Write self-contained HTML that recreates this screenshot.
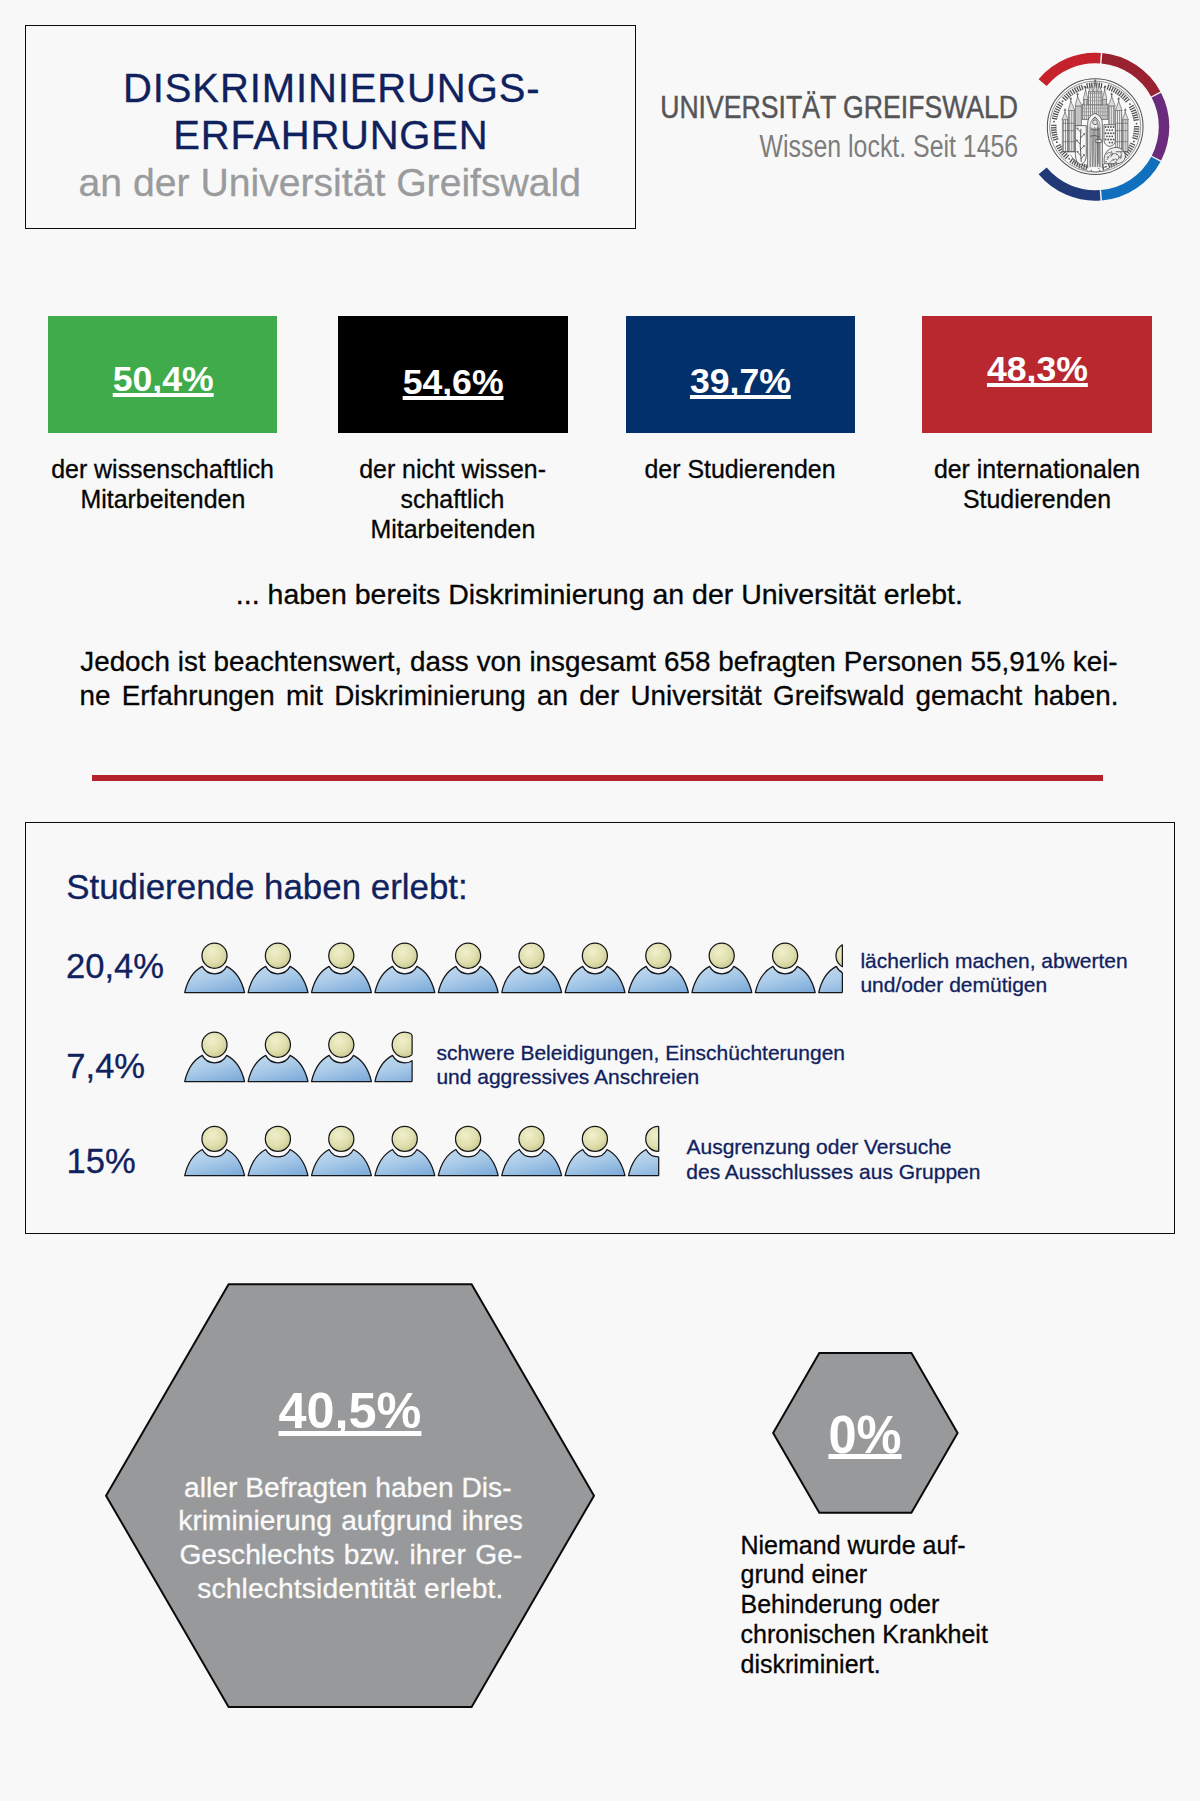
<!DOCTYPE html>
<html lang="de"><head><meta charset="utf-8"><title>Diskriminierungserfahrungen an der Universität Greifswald</title>
<style>
html,body{margin:0;padding:0}
body{width:1200px;height:1801px;position:relative;overflow:hidden;background:#f8f8f8;font-family:"Liberation Sans",Arial,sans-serif}
.t{position:absolute;white-space:pre;margin:0}
.b{position:absolute}
.t{-webkit-text-stroke:0.3px currentColor}
.u{text-decoration:underline;text-decoration-thickness:0.105em;text-underline-offset:0.054em;text-decoration-skip-ink:none;-webkit-text-stroke:0}
svg.g{position:absolute;left:0;top:0}
</style></head><body>
<svg class="g" width="1200" height="1801" viewBox="0 0 1200 1801">
<defs>
<radialGradient id="hg" cx="40%" cy="35%" r="70%"><stop offset="0" stop-color="#f0efcc"/><stop offset="0.6" stop-color="#e0dfae"/><stop offset="1" stop-color="#c9c88e"/></radialGradient>
<linearGradient id="bg" x1="0.2" y1="0" x2="0.8" y2="1"><stop offset="0" stop-color="#c0d9ef"/><stop offset="0.45" stop-color="#a9cae8"/><stop offset="1" stop-color="#7eacda"/></linearGradient>
<g id="p"><path d="M0.7,50 Q5,30.8 18.3,23.8 A13.76,13.76 0 0 0 42.7,23.8 Q56.2,30.8 60.6,50 Z" fill="url(#bg)" stroke="#15161a" stroke-width="1.25" stroke-linejoin="round"/><circle cx="30.5" cy="13.2" r="12.55" fill="url(#hg)" stroke="#15161a" stroke-width="1.25"/></g>
</defs>
<use href="#p" x="184.0" y="942.6"/>
<use href="#p" x="247.4" y="942.6"/>
<use href="#p" x="310.8" y="942.6"/>
<use href="#p" x="374.2" y="942.6"/>
<use href="#p" x="437.6" y="942.6"/>
<use href="#p" x="501.0" y="942.6"/>
<use href="#p" x="564.4" y="942.6"/>
<use href="#p" x="627.8" y="942.6"/>
<use href="#p" x="691.2" y="942.6"/>
<use href="#p" x="754.6" y="942.6"/>
<clipPath id="c942"><rect x="816.0" y="940.6" width="26.4" height="56"/></clipPath>
<g clip-path="url(#c942)"><use href="#p" x="818.0" y="942.6"/></g>
<line x1="842.4" y1="944.5" x2="842.4" y2="967.1" stroke="#15161a" stroke-width="1.25"/>
<line x1="842.4" y1="972.6" x2="842.4" y2="992.6" stroke="#15161a" stroke-width="1.25"/>
<use href="#p" x="184.0" y="1031.6"/>
<use href="#p" x="247.4" y="1031.6"/>
<use href="#p" x="310.8" y="1031.6"/>
<clipPath id="c1031"><rect x="372.2" y="1029.6" width="39.9" height="56"/></clipPath>
<g clip-path="url(#c1031)"><use href="#p" x="374.2" y="1031.6"/></g>
<line x1="412.1" y1="1035.1" x2="412.1" y2="1054.5" stroke="#15161a" stroke-width="1.25"/>
<line x1="412.1" y1="1060.2" x2="412.1" y2="1081.6" stroke="#15161a" stroke-width="1.25"/>
<use href="#p" x="184.0" y="1125.7"/>
<use href="#p" x="247.4" y="1125.7"/>
<use href="#p" x="310.8" y="1125.7"/>
<use href="#p" x="374.2" y="1125.7"/>
<use href="#p" x="437.6" y="1125.7"/>
<use href="#p" x="501.0" y="1125.7"/>
<use href="#p" x="564.4" y="1125.7"/>
<clipPath id="c1125"><rect x="625.8" y="1123.7" width="32.9" height="56"/></clipPath>
<g clip-path="url(#c1125)"><use href="#p" x="627.8" y="1125.7"/></g>
<line x1="658.7" y1="1126.4" x2="658.7" y2="1151.4" stroke="#15161a" stroke-width="1.25"/>
<line x1="658.7" y1="1156.8" x2="658.7" y2="1175.7" stroke="#15161a" stroke-width="1.25"/>
<polygon points="106.05,1495.65 228.6,1284.3 471.6,1284.3 594,1495.65 471.6,1707 228.6,1707" fill="#98999b" stroke="#0a0a0a" stroke-width="2" stroke-linejoin="miter"/>
<polygon points="773.15,1432.9 819.3,1353 911.4,1353 957.6,1432.9 911.4,1512.75 819.3,1512.75" fill="#98999b" stroke="#0a0a0a" stroke-width="2"/>
<path d="M1042.63,82.51 A68.75,68.75 0 0 1 1100.45,58.14" fill="none" stroke="#c5222b" stroke-width="10.5"/>
<path d="M1101.89,58.27 A68.75,68.75 0 0 1 1155.72,93.90" fill="none" stroke="#98222f" stroke-width="10.5"/>
<path d="M1156.34,95.06 A68.75,68.75 0 0 1 1156.45,158.13" fill="none" stroke="#6b2b7c" stroke-width="10.5"/>
<path d="M1155.89,159.19 A68.75,68.75 0 0 1 1101.53,195.17" fill="none" stroke="#1170bd" stroke-width="10.5"/>
<path d="M1100.10,195.28 A68.75,68.75 0 0 1 1042.63,170.89" fill="none" stroke="#213977" stroke-width="10.5"/>
<g transform="translate(1040,72) scale(0.091667)" fill="none" stroke-linecap="butt">
<pattern id="ht" width="21" height="12" patternUnits="userSpaceOnUse"><rect width="21" height="12" fill="#f4f4f4"/><rect width="8.5" height="12" fill="#777"/></pattern>
<pattern id="ht2" width="21" height="40" patternUnits="userSpaceOnUse"><rect width="21" height="40" fill="#f2f2f2"/><rect width="8.5" height="40" fill="#707070"/><rect y="32" width="21" height="7" fill="#8a8a8a"/></pattern>
<circle cx="602" cy="596" r="522" fill="#fbfbfb" stroke="#505050" stroke-width="11"/>
<circle cx="602" cy="596" r="497" stroke="#6e6e6e" stroke-width="8"/>
<line x1="514" y1="1011" x2="502" y2="1066" stroke="#4a4a4a" stroke-width="13"/>
<line x1="490" y1="1005" x2="475" y2="1059" stroke="#4a4a4a" stroke-width="13"/>
<line x1="467" y1="998" x2="449" y2="1051" stroke="#4a4a4a" stroke-width="13"/>
<line x1="444" y1="989" x2="423" y2="1041" stroke="#4a4a4a" stroke-width="13"/>
<line x1="421" y1="980" x2="398" y2="1030" stroke="#4a4a4a" stroke-width="13"/>
<line x1="400" y1="969" x2="373" y2="1018" stroke="#4a4a4a" stroke-width="13"/>
<line x1="379" y1="956" x2="349" y2="1004" stroke="#4a4a4a" stroke-width="13"/>
<line x1="358" y1="943" x2="326" y2="989" stroke="#4a4a4a" stroke-width="13"/>
<path d="M513,1014 A427,427 0 0 1 357,946" stroke="#6e6e6e" stroke-width="9" stroke-dasharray="12 10"/>
<path d="M503,1063 A477,477 0 0 1 328,987" stroke="#6e6e6e" stroke-width="9" stroke-dasharray="12 10"/>
<circle cx="318" cy="947" r="10" fill="#505050"/>
<line x1="313" y1="906" x2="275" y2="947" stroke="#4a4a4a" stroke-width="13"/>
<line x1="295" y1="889" x2="255" y2="928" stroke="#4a4a4a" stroke-width="13"/>
<line x1="279" y1="871" x2="236" y2="907" stroke="#4a4a4a" stroke-width="13"/>
<line x1="264" y1="852" x2="219" y2="886" stroke="#4a4a4a" stroke-width="13"/>
<line x1="250" y1="832" x2="203" y2="863" stroke="#4a4a4a" stroke-width="13"/>
<line x1="237" y1="811" x2="188" y2="840" stroke="#4a4a4a" stroke-width="13"/>
<line x1="225" y1="790" x2="175" y2="815" stroke="#4a4a4a" stroke-width="13"/>
<path d="M311,908 A427,427 0 0 1 218,783" stroke="#6e6e6e" stroke-width="9" stroke-dasharray="12 10"/>
<path d="M277,945 A477,477 0 0 1 173,805" stroke="#6e6e6e" stroke-width="9" stroke-dasharray="12 10"/>
<circle cx="183" cy="765" r="10" fill="#505050"/>
<line x1="199" y1="727" x2="145" y2="744" stroke="#4a4a4a" stroke-width="13"/>
<line x1="192" y1="704" x2="138" y2="718" stroke="#4a4a4a" stroke-width="13"/>
<line x1="186" y1="680" x2="131" y2="691" stroke="#4a4a4a" stroke-width="13"/>
<line x1="182" y1="656" x2="127" y2="664" stroke="#4a4a4a" stroke-width="13"/>
<line x1="179" y1="631" x2="124" y2="636" stroke="#4a4a4a" stroke-width="13"/>
<line x1="178" y1="607" x2="122" y2="609" stroke="#4a4a4a" stroke-width="13"/>
<line x1="178" y1="583" x2="122" y2="581" stroke="#4a4a4a" stroke-width="13"/>
<path d="M196,728 A427,427 0 0 1 176,574" stroke="#6e6e6e" stroke-width="9" stroke-dasharray="12 10"/>
<path d="M148,743 A477,477 0 0 1 126,571" stroke="#6e6e6e" stroke-width="9" stroke-dasharray="12 10"/>
<circle cx="153" cy="541" r="10" fill="#505050"/>
<line x1="186" y1="515" x2="131" y2="504" stroke="#4a4a4a" stroke-width="13"/>
<line x1="191" y1="491" x2="137" y2="477" stroke="#4a4a4a" stroke-width="13"/>
<line x1="198" y1="468" x2="144" y2="451" stroke="#4a4a4a" stroke-width="13"/>
<line x1="206" y1="445" x2="154" y2="425" stroke="#4a4a4a" stroke-width="13"/>
<line x1="215" y1="422" x2="164" y2="399" stroke="#4a4a4a" stroke-width="13"/>
<line x1="226" y1="400" x2="176" y2="374" stroke="#4a4a4a" stroke-width="13"/>
<line x1="238" y1="379" x2="190" y2="350" stroke="#4a4a4a" stroke-width="13"/>
<line x1="251" y1="358" x2="205" y2="327" stroke="#4a4a4a" stroke-width="13"/>
<path d="M183,515 A427,427 0 0 1 248,357" stroke="#6e6e6e" stroke-width="9" stroke-dasharray="12 10"/>
<path d="M134,505 A477,477 0 0 1 207,329" stroke="#6e6e6e" stroke-width="9" stroke-dasharray="12 10"/>
<circle cx="246" cy="318" r="10" fill="#505050"/>
<line x1="287" y1="312" x2="245" y2="275" stroke="#4a4a4a" stroke-width="13"/>
<line x1="304" y1="295" x2="264" y2="255" stroke="#4a4a4a" stroke-width="13"/>
<line x1="322" y1="278" x2="285" y2="236" stroke="#4a4a4a" stroke-width="13"/>
<line x1="340" y1="262" x2="306" y2="218" stroke="#4a4a4a" stroke-width="13"/>
<line x1="360" y1="248" x2="328" y2="202" stroke="#4a4a4a" stroke-width="13"/>
<line x1="380" y1="234" x2="351" y2="187" stroke="#4a4a4a" stroke-width="13"/>
<line x1="402" y1="222" x2="375" y2="173" stroke="#4a4a4a" stroke-width="13"/>
<line x1="423" y1="211" x2="400" y2="161" stroke="#4a4a4a" stroke-width="13"/>
<line x1="446" y1="202" x2="425" y2="150" stroke="#4a4a4a" stroke-width="13"/>
<line x1="469" y1="193" x2="451" y2="140" stroke="#4a4a4a" stroke-width="13"/>
<path d="M285,310 A427,427 0 0 1 463,192" stroke="#6e6e6e" stroke-width="9" stroke-dasharray="12 10"/>
<path d="M248,277 A477,477 0 0 1 447,145" stroke="#6e6e6e" stroke-width="9" stroke-dasharray="12 10"/>
<circle cx="485" cy="159" r="10" fill="#505050"/>
<line x1="521" y1="180" x2="510" y2="125" stroke="#4a4a4a" stroke-width="13"/>
<line x1="545" y1="176" x2="538" y2="120" stroke="#4a4a4a" stroke-width="13"/>
<line x1="569" y1="173" x2="565" y2="117" stroke="#4a4a4a" stroke-width="13"/>
<line x1="594" y1="172" x2="593" y2="116" stroke="#4a4a4a" stroke-width="13"/>
<line x1="618" y1="172" x2="620" y2="116" stroke="#4a4a4a" stroke-width="13"/>
<line x1="643" y1="174" x2="648" y2="118" stroke="#4a4a4a" stroke-width="13"/>
<line x1="667" y1="177" x2="675" y2="122" stroke="#4a4a4a" stroke-width="13"/>
<path d="M521,177 A427,427 0 0 1 676,175" stroke="#6e6e6e" stroke-width="9" stroke-dasharray="12 10"/>
<path d="M511,128 A477,477 0 0 1 685,126" stroke="#6e6e6e" stroke-width="9" stroke-dasharray="12 10"/>
<circle cx="711" cy="157" r="10" fill="#505050"/>
<line x1="733" y1="193" x2="750" y2="139" stroke="#4a4a4a" stroke-width="13"/>
<line x1="756" y1="201" x2="776" y2="149" stroke="#4a4a4a" stroke-width="13"/>
<line x1="779" y1="210" x2="802" y2="160" stroke="#4a4a4a" stroke-width="13"/>
<line x1="800" y1="221" x2="827" y2="172" stroke="#4a4a4a" stroke-width="13"/>
<line x1="822" y1="233" x2="851" y2="185" stroke="#4a4a4a" stroke-width="13"/>
<line x1="842" y1="247" x2="874" y2="200" stroke="#4a4a4a" stroke-width="13"/>
<line x1="862" y1="261" x2="896" y2="217" stroke="#4a4a4a" stroke-width="13"/>
<line x1="881" y1="276" x2="918" y2="234" stroke="#4a4a4a" stroke-width="13"/>
<line x1="899" y1="293" x2="938" y2="253" stroke="#4a4a4a" stroke-width="13"/>
<line x1="916" y1="311" x2="957" y2="273" stroke="#4a4a4a" stroke-width="13"/>
<line x1="932" y1="329" x2="975" y2="294" stroke="#4a4a4a" stroke-width="13"/>
<path d="M734,190 A427,427 0 0 1 943,339" stroke="#6e6e6e" stroke-width="9" stroke-dasharray="12 10"/>
<path d="M749,142 A477,477 0 0 1 983,309" stroke="#6e6e6e" stroke-width="9" stroke-dasharray="12 10"/>
<circle cx="981" cy="350" r="10" fill="#505050"/>
<line x1="973" y1="390" x2="1022" y2="363" stroke="#4a4a4a" stroke-width="13"/>
<line x1="984" y1="412" x2="1035" y2="388" stroke="#4a4a4a" stroke-width="13"/>
<line x1="994" y1="434" x2="1046" y2="413" stroke="#4a4a4a" stroke-width="13"/>
<line x1="1003" y1="457" x2="1056" y2="439" stroke="#4a4a4a" stroke-width="13"/>
<line x1="1010" y1="481" x2="1064" y2="465" stroke="#4a4a4a" stroke-width="13"/>
<line x1="1016" y1="504" x2="1071" y2="492" stroke="#4a4a4a" stroke-width="13"/>
<line x1="1021" y1="528" x2="1076" y2="519" stroke="#4a4a4a" stroke-width="13"/>
<path d="M975,389 A427,427 0 0 1 1025,537" stroke="#6e6e6e" stroke-width="9" stroke-dasharray="12 10"/>
<path d="M1019,365 A477,477 0 0 1 1074,530" stroke="#6e6e6e" stroke-width="9" stroke-dasharray="12 10"/>
<circle cx="1053" cy="564" r="10" fill="#505050"/>
<line x1="1026" y1="596" x2="1082" y2="596" stroke="#4a4a4a" stroke-width="13"/>
<line x1="1025" y1="620" x2="1081" y2="624" stroke="#4a4a4a" stroke-width="13"/>
<line x1="1023" y1="645" x2="1079" y2="651" stroke="#4a4a4a" stroke-width="13"/>
<line x1="1020" y1="669" x2="1075" y2="679" stroke="#4a4a4a" stroke-width="13"/>
<line x1="1015" y1="693" x2="1069" y2="706" stroke="#4a4a4a" stroke-width="13"/>
<line x1="1009" y1="716" x2="1062" y2="732" stroke="#4a4a4a" stroke-width="13"/>
<path d="M1029,596 A427,427 0 0 1 1010,721" stroke="#6e6e6e" stroke-width="9" stroke-dasharray="12 10"/>
<path d="M1079,596 A477,477 0 0 1 1058,735" stroke="#6e6e6e" stroke-width="9" stroke-dasharray="12 10"/>
<circle cx="1024" cy="758" r="10" fill="#505050"/>
<line x1="986" y1="775" x2="1037" y2="799" stroke="#4a4a4a" stroke-width="13"/>
<line x1="975" y1="797" x2="1025" y2="824" stroke="#4a4a4a" stroke-width="13"/>
<line x1="963" y1="818" x2="1011" y2="848" stroke="#4a4a4a" stroke-width="13"/>
<line x1="950" y1="839" x2="996" y2="871" stroke="#4a4a4a" stroke-width="13"/>
<line x1="935" y1="858" x2="979" y2="893" stroke="#4a4a4a" stroke-width="13"/>
<line x1="920" y1="877" x2="961" y2="914" stroke="#4a4a4a" stroke-width="13"/>
<line x1="903" y1="895" x2="943" y2="934" stroke="#4a4a4a" stroke-width="13"/>
<path d="M989,776 A427,427 0 0 1 899,903" stroke="#6e6e6e" stroke-width="9" stroke-dasharray="12 10"/>
<path d="M1034,798 A477,477 0 0 1 933,939" stroke="#6e6e6e" stroke-width="9" stroke-dasharray="12 10"/>
<circle cx="893" cy="942" r="10" fill="#505050"/>
<line x1="851" y1="939" x2="884" y2="984" stroke="#4a4a4a" stroke-width="13"/>
<line x1="831" y1="953" x2="861" y2="1000" stroke="#4a4a4a" stroke-width="13"/>
<line x1="810" y1="965" x2="838" y2="1014" stroke="#4a4a4a" stroke-width="13"/>
<line x1="789" y1="977" x2="813" y2="1027" stroke="#4a4a4a" stroke-width="13"/>
<line x1="766" y1="987" x2="788" y2="1038" stroke="#4a4a4a" stroke-width="13"/>
<line x1="744" y1="996" x2="762" y2="1048" stroke="#4a4a4a" stroke-width="13"/>
<path d="M853,941 A427,427 0 0 1 741,1000" stroke="#6e6e6e" stroke-width="9" stroke-dasharray="12 10"/>
<path d="M882,982 A477,477 0 0 1 757,1047" stroke="#6e6e6e" stroke-width="9" stroke-dasharray="12 10"/>
<circle cx="719" cy="1033" r="10" fill="#505050"/>
<line x1="683" y1="1012" x2="694" y2="1067" stroke="#4a4a4a" stroke-width="13"/>
<path d="M683,1015 A427,427 0 0 1 669,1018" stroke="#6e6e6e" stroke-width="9" stroke-dasharray="12 10"/>
<path d="M693,1064 A477,477 0 0 1 677,1067" stroke="#6e6e6e" stroke-width="9" stroke-dasharray="12 10"/>
<circle cx="641" cy="1046" r="10" fill="#505050"/>
<rect x="243" y="520" width="60" height="350" fill="url(#ht)" stroke="#6e6e6e" stroke-width="8"/>
<path d="M239,520 L273,440 L307,520 Z" fill="#dcdcdc" stroke="#6e6e6e" stroke-width="8"/>
<path d="M273,446 V398 M260,416 H286" stroke="#505050" stroke-width="9"/>
<rect x="311" y="420" width="66" height="450" fill="url(#ht)" stroke="#6e6e6e" stroke-width="8"/>
<path d="M307,420 L336,318 L381,420 Z" fill="#dcdcdc" stroke="#6e6e6e" stroke-width="8"/>
<path d="M336,324 V276 M323,294 H349" stroke="#505050" stroke-width="9"/>
<rect x="386" y="370" width="66" height="230" fill="url(#ht)" stroke="#6e6e6e" stroke-width="8"/>
<path d="M382,370 L410,268 L456,370 Z" fill="#dcdcdc" stroke="#6e6e6e" stroke-width="8"/>
<path d="M410,274 V226 M397,244 H423" stroke="#505050" stroke-width="9"/>
<rect x="900" y="520" width="60" height="350" fill="url(#ht)" stroke="#6e6e6e" stroke-width="8"/>
<path d="M896,520 L930,440 L964,520 Z" fill="#dcdcdc" stroke="#6e6e6e" stroke-width="8"/>
<path d="M930,446 V398 M917,416 H943" stroke="#505050" stroke-width="9"/>
<rect x="826" y="420" width="66" height="450" fill="url(#ht)" stroke="#6e6e6e" stroke-width="8"/>
<path d="M822,420 L858,318 L896,420 Z" fill="#dcdcdc" stroke="#6e6e6e" stroke-width="8"/>
<path d="M858,324 V276 M845,294 H871" stroke="#505050" stroke-width="9"/>
<rect x="750" y="370" width="66" height="230" fill="url(#ht)" stroke="#6e6e6e" stroke-width="8"/>
<path d="M746,370 L782,268 L820,370 Z" fill="#dcdcdc" stroke="#6e6e6e" stroke-width="8"/>
<path d="M782,274 V226 M769,244 H795" stroke="#505050" stroke-width="9"/>
<rect x="462" y="350" width="280" height="170" fill="url(#ht2)" stroke="#6e6e6e" stroke-width="8"/>
<rect x="475" y="300" width="45" height="60" fill="url(#ht)" stroke="#6e6e6e" stroke-width="8"/>
<path d="M471,300 L497,195 L524,300 Z" fill="#dcdcdc" stroke="#6e6e6e" stroke-width="8"/>
<path d="M497,201 V153 M484,171 H510" stroke="#505050" stroke-width="9"/>
<rect x="682" y="300" width="45" height="60" fill="url(#ht)" stroke="#6e6e6e" stroke-width="8"/>
<path d="M678,300 L706,195 L731,300 Z" fill="#dcdcdc" stroke="#6e6e6e" stroke-width="8"/>
<path d="M706,201 V153 M693,171 H719" stroke="#505050" stroke-width="9"/>
<rect x="528" y="215" width="148" height="145" fill="url(#ht2)" stroke="#6e6e6e" stroke-width="8"/>
<path d="M528,215 L560,150 L580,215 Z M580,215 L602,118 L624,215 Z M624,215 L646,150 L676,215 Z" fill="#d9d9d9" stroke="#6e6e6e" stroke-width="8"/>
<path d="M602,124 V78 M589,98 H615 M560,152 V118 M646,152 V118" stroke="#505050" stroke-width="9"/>
<path d="M243,560 H377 M826,560 H960" stroke="#6e6e6e" stroke-width="8"/>
<path d="M243,640 H377 M826,640 H960" stroke="#6e6e6e" stroke-width="8"/>
<path d="M243,760 H377 M826,760 H960" stroke="#6e6e6e" stroke-width="8"/>
<path d="M520,1050 V560 Q520,480 600,452 Q680,480 680,560 V1050" fill="#f4f4f4" stroke="#505050" stroke-width="9"/>
<path d="M545,1040 V600 Q545,520 600,500 Q655,520 655,600 V1040" fill="#ececec" stroke="#6e6e6e" stroke-width="8"/>
<circle cx="600" cy="548" r="26" fill="#e3e3e3" stroke="#505050" stroke-width="9"/>
<path d="M574,520 L600,488 L626,520" stroke="#505050" stroke-width="9"/>
<path d="M556,600 Q562,800 552,1035" stroke="#6e6e6e" stroke-width="8"/>
<path d="M569,608 Q575,800 573,1035" stroke="#6e6e6e" stroke-width="8"/>
<path d="M582,616 Q588,800 578,1035" stroke="#6e6e6e" stroke-width="8"/>
<path d="M595,600 Q601,800 599,1035" stroke="#6e6e6e" stroke-width="8"/>
<path d="M608,608 Q614,800 604,1035" stroke="#6e6e6e" stroke-width="8"/>
<path d="M621,616 Q627,800 625,1035" stroke="#6e6e6e" stroke-width="8"/>
<path d="M634,600 Q640,800 630,1035" stroke="#6e6e6e" stroke-width="8"/>
<path d="M647,608 Q653,800 651,1035" stroke="#6e6e6e" stroke-width="8"/>
<path d="M548,700 Q600,680 652,712 M556,620 Q600,650 646,620" stroke="#505050" stroke-width="9"/>
<path d="M632,560 V1000 M610,735 H668 V770 H610 Z" stroke="#505050" stroke-width="9" fill="#f2f2f2"/>
<path d="M386,585 H505 V900 Q505,990 446,1010 Q386,990 386,900 Z" fill="#f6f6f6" stroke="#505050" stroke-width="9"/>
<path d="M446,620 Q430,800 450,985" stroke="#505050" stroke-width="10"/>
<path d="M446,660 q-19.0,-28 -38,-40" stroke="#505050" stroke-width="9"/>
<circle cx="408" cy="616" r="11" fill="#6e6e6e"/>
<path d="M442,720 q20.0,-28 40,-40" stroke="#505050" stroke-width="9"/>
<circle cx="482" cy="676" r="11" fill="#6e6e6e"/>
<path d="M438,790 q-18.0,-28 -36,-40" stroke="#505050" stroke-width="9"/>
<circle cx="402" cy="746" r="11" fill="#6e6e6e"/>
<path d="M440,850 q20.0,-28 40,-40" stroke="#505050" stroke-width="9"/>
<circle cx="480" cy="806" r="11" fill="#6e6e6e"/>
<path d="M444,915 q-17.0,-28 -34,-40" stroke="#505050" stroke-width="9"/>
<circle cx="410" cy="871" r="11" fill="#6e6e6e"/>
<path d="M448,950 q16.0,-28 32,-40" stroke="#505050" stroke-width="9"/>
<circle cx="480" cy="906" r="11" fill="#6e6e6e"/>
<path d="M698,575 H822 V740 Q822,800 760,812 Q698,800 698,740 Z" fill="#f6f6f6" stroke="#505050" stroke-width="9"/>
<circle cx="716" cy="600" r="10" fill="#505050"/>
<circle cx="745" cy="600" r="10" fill="#505050"/>
<circle cx="774" cy="600" r="10" fill="#505050"/>
<circle cx="803" cy="600" r="10" fill="#505050"/>
<circle cx="730" cy="634" r="10" fill="#505050"/>
<circle cx="759" cy="634" r="10" fill="#505050"/>
<circle cx="788" cy="634" r="10" fill="#505050"/>
<circle cx="716" cy="668" r="10" fill="#505050"/>
<circle cx="745" cy="668" r="10" fill="#505050"/>
<circle cx="774" cy="668" r="10" fill="#505050"/>
<circle cx="803" cy="668" r="10" fill="#505050"/>
<circle cx="730" cy="702" r="10" fill="#505050"/>
<circle cx="759" cy="702" r="10" fill="#505050"/>
<circle cx="788" cy="702" r="10" fill="#505050"/>
<circle cx="716" cy="736" r="10" fill="#505050"/>
<circle cx="745" cy="736" r="10" fill="#505050"/>
<circle cx="774" cy="736" r="10" fill="#505050"/>
<circle cx="803" cy="736" r="10" fill="#505050"/>
<circle cx="759" cy="770" r="10" fill="#505050"/>
<circle cx="788" cy="770" r="10" fill="#505050"/>
<path d="M700,1000 Q690,880 760,840 Q850,800 900,850 Q950,900 920,960 Q880,1010 800,1000 Z" fill="#eeeeee" stroke="#505050" stroke-width="9"/>
<path d="M730,960 Q760,880 820,890 Q870,900 860,950 M760,990 Q800,930 850,960 M780,860 Q800,900 770,930 M880,870 Q900,910 880,950 M720,900 Q740,870 780,880" stroke="#6e6e6e" stroke-width="9"/>
<circle cx="740" cy="930" r="9" fill="#6e6e6e"/>
<circle cx="800" cy="960" r="9" fill="#6e6e6e"/>
<circle cx="840" cy="900" r="9" fill="#6e6e6e"/>
<circle cx="790" cy="900" r="9" fill="#6e6e6e"/>
<circle cx="880" cy="930" r="9" fill="#6e6e6e"/>
<circle cx="720" cy="980" r="9" fill="#6e6e6e"/>
<circle cx="830" cy="985" r="9" fill="#6e6e6e"/>
<circle cx="400" cy="1020" r="8" fill="#6e6e6e"/>
<circle cx="430" cy="1045" r="8" fill="#6e6e6e"/>
<circle cx="470" cy="1060" r="8" fill="#6e6e6e"/>
<circle cx="500" cy="1030" r="8" fill="#6e6e6e"/>
<circle cx="700" cy="1040" r="8" fill="#6e6e6e"/>
<circle cx="740" cy="1055" r="8" fill="#6e6e6e"/>
<circle cx="690" cy="1010" r="8" fill="#6e6e6e"/>
<circle cx="380" cy="985" r="8" fill="#6e6e6e"/>
<circle cx="560" cy="1075" r="8" fill="#6e6e6e"/>
<circle cx="650" cy="1075" r="8" fill="#6e6e6e"/>
<circle cx="470" cy="1020" r="8" fill="#6e6e6e"/>
<path d="M330,900 Q450,1100 602,1090 Q760,1100 890,900" stroke="#6e6e6e" stroke-width="8"/>
<path d="M243,870 H386 M826,870 H960" stroke="#505050" stroke-width="9"/>
</g>
</svg>
<div class="b" style="left:24.8px;top:24.6px;width:611.2px;height:204.15px;border:1.9px solid #0c0c0c;box-sizing:border-box;"></div>
<div class="t " style="top:68.34px;font-size:40px;line-height:40px;color:#10225e;letter-spacing:0.9px;left:-268.3px;width:1200px;text-align:center;">DISKRIMINIERUNGS-</div>
<div class="t " style="top:114.84px;font-size:40px;line-height:40px;color:#10225e;letter-spacing:0.75px;left:-269.2px;width:1200px;text-align:center;">ERFAHRUNGEN</div>
<div class="t " style="top:162.76px;font-size:39.15px;line-height:39.15px;color:#9a9b9d;left:-270.2px;width:1200px;text-align:center;">an der Universität Greifswald</div>
<div class="t " style="top:91.92px;font-size:31.4px;line-height:31.4px;color:#555557;right:182.39999999999998px;text-align:right;transform:scaleX(0.848);transform-origin:100% 50%;-webkit-text-stroke:0.45px #555557;">UNIVERSITÄT GREIFSWALD</div>
<div class="t " style="top:130.86px;font-size:31px;line-height:31px;color:#7d7d7d;right:181.70000000000005px;text-align:right;transform:scaleX(0.8026);transform-origin:100% 50%;-webkit-text-stroke:0;">Wissen lockt. Seit 1456</div>
<div class="b" style="left:48.25px;top:316.2px;width:228.85000000000002px;height:116.60000000000002px;background:#40ab4a;"></div>
<div class="b" style="left:338.25px;top:316.2px;width:229.25px;height:116.60000000000002px;background:#000;"></div>
<div class="b" style="left:625.5px;top:316.2px;width:229.10000000000002px;height:116.60000000000002px;background:#01306a;"></div>
<div class="b" style="left:922.4px;top:316.2px;width:229.39999999999998px;height:116.60000000000002px;background:#b9272f;"></div>
<div class="t u" style="top:361.66px;font-size:35.6px;line-height:35.6px;color:#fff;font-weight:700;left:-436.8px;width:1200px;text-align:center;">50,4%</div>
<div class="t u" style="top:365.16px;font-size:35.6px;line-height:35.6px;color:#fff;font-weight:700;left:-146.89999999999998px;width:1200px;text-align:center;">54,6%</div>
<div class="t u" style="top:364.06px;font-size:35.6px;line-height:35.6px;color:#fff;font-weight:700;left:140.39999999999998px;width:1200px;text-align:center;">39,7%</div>
<div class="t u" style="top:352.16px;font-size:35.6px;line-height:35.6px;color:#fff;font-weight:700;left:437.4000000000001px;width:1200px;text-align:center;">48,3%</div>
<div class="t " style="top:457.32px;font-size:24.9px;line-height:24.9px;color:#050505;left:-437.4px;width:1200px;text-align:center;">der wissenschaftlich</div>
<div class="t " style="top:487.02px;font-size:24.9px;line-height:24.9px;color:#050505;left:-437.1px;width:1200px;text-align:center;">Mitarbeitenden</div>
<div class="t " style="top:457.32px;font-size:24.9px;line-height:24.9px;color:#050505;left:-147.39999999999998px;width:1200px;text-align:center;">der nicht wissen-</div>
<div class="t " style="top:487.02px;font-size:24.9px;line-height:24.9px;color:#050505;left:-147.5px;width:1200px;text-align:center;">schaftlich</div>
<div class="t " style="top:517.02px;font-size:24.9px;line-height:24.9px;color:#050505;left:-147.10000000000002px;width:1200px;text-align:center;">Mitarbeitenden</div>
<div class="t " style="top:457.32px;font-size:24.9px;line-height:24.9px;color:#050505;left:140px;width:1200px;text-align:center;">der Studierenden</div>
<div class="t " style="top:457.32px;font-size:24.9px;line-height:24.9px;color:#050505;left:437px;width:1200px;text-align:center;">der internationalen</div>
<div class="t " style="top:487.02px;font-size:24.9px;line-height:24.9px;color:#050505;left:437px;width:1200px;text-align:center;">Studierenden</div>
<div class="t " style="top:579.67px;font-size:28.5px;line-height:28.5px;color:#050505;left:-0.6000000000000227px;width:1200px;text-align:center;">... haben bereits Diskriminierung an der Universität erlebt.</div>
<div class="t " style="top:648.07px;font-size:27.8px;line-height:27.8px;color:#050505;word-spacing:0.2px;left:80.3px;">Jedoch ist beachtenswert, dass von insgesamt 658 befragten Personen 55,91% kei-</div>
<div class="t " style="top:682.27px;font-size:27.8px;line-height:27.8px;color:#050505;word-spacing:3.5px;left:79.6px;">ne Erfahrungen mit Diskriminierung an der Universität Greifswald gemacht haben.</div>
<div class="b" style="left:92px;top:774.8px;width:1010.5px;height:5.800000000000068px;background:#b4222b;"></div>
<div class="b" style="left:24.7px;top:821.6px;width:1150.3px;height:412.15px;border:1.9px solid #0c0c0c;box-sizing:border-box;"></div>
<div class="t " style="top:869.56px;font-size:34.9px;line-height:34.9px;color:#10225e;left:66.2px;">Studierende haben erlebt:</div>
<div class="t " style="top:949.41px;font-size:34.6px;line-height:34.6px;color:#10225e;left:66px;">20,4%</div>
<div class="t " style="top:1049.41px;font-size:34.6px;line-height:34.6px;color:#10225e;left:66.3px;">7,4%</div>
<div class="t " style="top:1144.41px;font-size:34.6px;line-height:34.6px;color:#10225e;left:66.5px;">15%</div>
<div class="t " style="top:949.62px;font-size:21.0px;line-height:21.0px;color:#10225e;left:860.4px;">lächerlich machen, abwerten</div>
<div class="t " style="top:974.22px;font-size:21.0px;line-height:21.0px;color:#10225e;left:860.4px;">und/oder demütigen</div>
<div class="t " style="top:1041.62px;font-size:21.0px;line-height:21.0px;color:#10225e;left:436.4px;">schwere Beleidigungen, Einschüchterungen</div>
<div class="t " style="top:1066.42px;font-size:21.0px;line-height:21.0px;color:#10225e;left:436.4px;">und aggressives Anschreien</div>
<div class="t " style="top:1135.62px;font-size:21.0px;line-height:21.0px;color:#10225e;left:686.5px;">Ausgrenzung oder Versuche</div>
<div class="t " style="top:1160.72px;font-size:21.0px;line-height:21.0px;color:#10225e;left:686.3px;">des Ausschlusses aus Gruppen</div>
<div class="t u" style="top:1386.44px;font-size:50.4px;line-height:50.4px;color:#fff;font-weight:700;left:-250px;width:1200px;text-align:center;">40,5%</div>
<div class="t " style="top:1472.93px;font-size:28.2px;line-height:28.2px;color:#fafafa;left:-252.2px;width:1200px;text-align:center;">aller Befragten haben Dis-</div>
<div class="t " style="top:1506.43px;font-size:28.2px;line-height:28.2px;color:#fafafa;word-spacing:1.5px;left:-249.39999999999998px;width:1200px;text-align:center;">kriminierung aufgrund ihres</div>
<div class="t " style="top:1540.13px;font-size:28.2px;line-height:28.2px;color:#fafafa;word-spacing:1.5px;left:-249.2px;width:1200px;text-align:center;">Geschlechts bzw. ihrer Ge-</div>
<div class="t " style="top:1574.13px;font-size:28.2px;line-height:28.2px;color:#fafafa;letter-spacing:0.15px;left:-249.7px;width:1200px;text-align:center;">schlechtsidentität erlebt.</div>
<div class="t u" style="top:1408.14px;font-size:53px;line-height:53px;color:#fff;font-weight:700;left:265.4px;width:1200px;text-align:center;transform:scaleX(0.954);text-decoration-thickness:4.9px;text-underline-offset:1.1px;">0%</div>
<div class="t " style="top:1532.54px;font-size:25.0px;line-height:25.0px;color:#050505;left:740.5px;">Niemand wurde auf-</div>
<div class="t " style="top:1562.49px;font-size:25.0px;line-height:25.0px;color:#050505;left:740.5px;">grund einer</div>
<div class="t " style="top:1592.44px;font-size:25.0px;line-height:25.0px;color:#050505;left:740.5px;">Behinderung oder</div>
<div class="t " style="top:1622.39px;font-size:25.0px;line-height:25.0px;color:#050505;left:740.5px;">chronischen Krankheit</div>
<div class="t " style="top:1652.34px;font-size:25.0px;line-height:25.0px;color:#050505;left:740.5px;">diskriminiert.</div>
</body></html>
